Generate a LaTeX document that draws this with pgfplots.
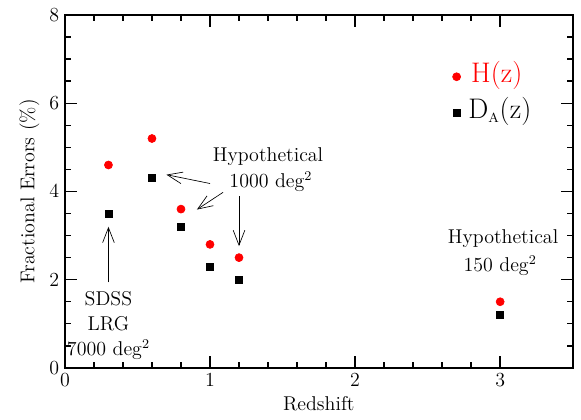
\documentclass[border=0pt]{standalone}
\usepackage{pgfplots}
\pgfplotsset{compat=1.18}
\usetikzlibrary{arrows.meta,calc}

\begin{document}
\begin{tikzpicture}[font=\large]
  \begin{axis}[
      scale only axis,
      width=305pt, height=212pt,
      xmin=0, xmax=3.5, ymin=0, ymax=8,
      xtick={0,1,2,3}, ytick={0,2,4,6,8},
      minor x tick num=4, minor y tick num=3,
      tick align=inside, tick pos=both,
      major tick length=7pt, minor tick length=3.5pt,
      axis line style={line width=1.2pt},
      every tick/.style={black, line width=0.8pt},
      tick label style={font=\large},
      label style={font=\large},
      xlabel={Redshift}, ylabel={Fractional Errors (\%)},
      xlabel style={yshift=1pt},
      ylabel style={yshift=-1pt},
      clip=false,
    ]
    % H(z)
    \addplot[only marks, mark=*, mark size=2.4pt, red, mark options={draw=red, fill=red}] coordinates {
        (0.3,4.6) (0.6,5.2) (0.8,3.6) (1.0,2.8) (1.2,2.5) (3.0,1.5)
      };
    % D_A(z)
    \addplot[only marks, mark=square*, mark size=2.1pt, black] coordinates {
        (0.3,3.5) (0.6,4.3) (0.8,3.2) (1.0,2.3) (1.2,2.0) (3.0,1.2)
      };
    % legend markers
    \addplot[only marks, mark=*, mark size=2.4pt, red, mark options={draw=red, fill=red}] coordinates {(2.7,6.6)};
    \addplot[only marks, mark=square*, mark size=2.1pt, black] coordinates {(2.7,5.79)};
    \node[anchor=west, red, font=\fontsize{17}{20}\selectfont] at (axis cs:2.76,6.62) {H(z)};
    \node[anchor=west, font=\fontsize{17}{20}\selectfont] at (axis cs:2.74,5.81)
      {D$_{\scriptscriptstyle\mathrm{A}}$(z)};

    % annotations
    \node[align=center, inner sep=0pt] at (axis cs:0.3,0.96)
      {SDSS\\[1pt]LRG\\[1pt]7000 deg$^2$};
    \draw[-{Straight Barb[length=9pt,width=7pt]}] (axis cs:0.3,1.94) -- (axis cs:0.3,3.2);

    \node at (axis cs:1.4,4.79) {Hypothetical};
    \node at (axis cs:1.42,4.22) {1000 deg$^2$};
    \draw[-{Straight Barb[length=9pt,width=7pt]}] (axis cs:1.0,4.18) -- (axis cs:0.70,4.38);
    \draw[-{Straight Barb[length=9pt,width=7pt]}] (axis cs:1.09,3.98) -- (axis cs:0.91,3.59);
    \draw[-{Straight Barb[length=9pt,width=7pt]}] (axis cs:1.2,3.89) -- (axis cs:1.2,2.76);

    \node at (axis cs:3.02,2.92) {Hypothetical};
    \node at (axis cs:3.0,2.31) {150 deg$^2$};
  \end{axis}
  \pgfresetboundingbox
  \path ($(current axis.south west)+(-39pt,-31pt)$) rectangle ($(current axis.north east)+(5pt,9pt)$);
\end{tikzpicture}
\end{document}
